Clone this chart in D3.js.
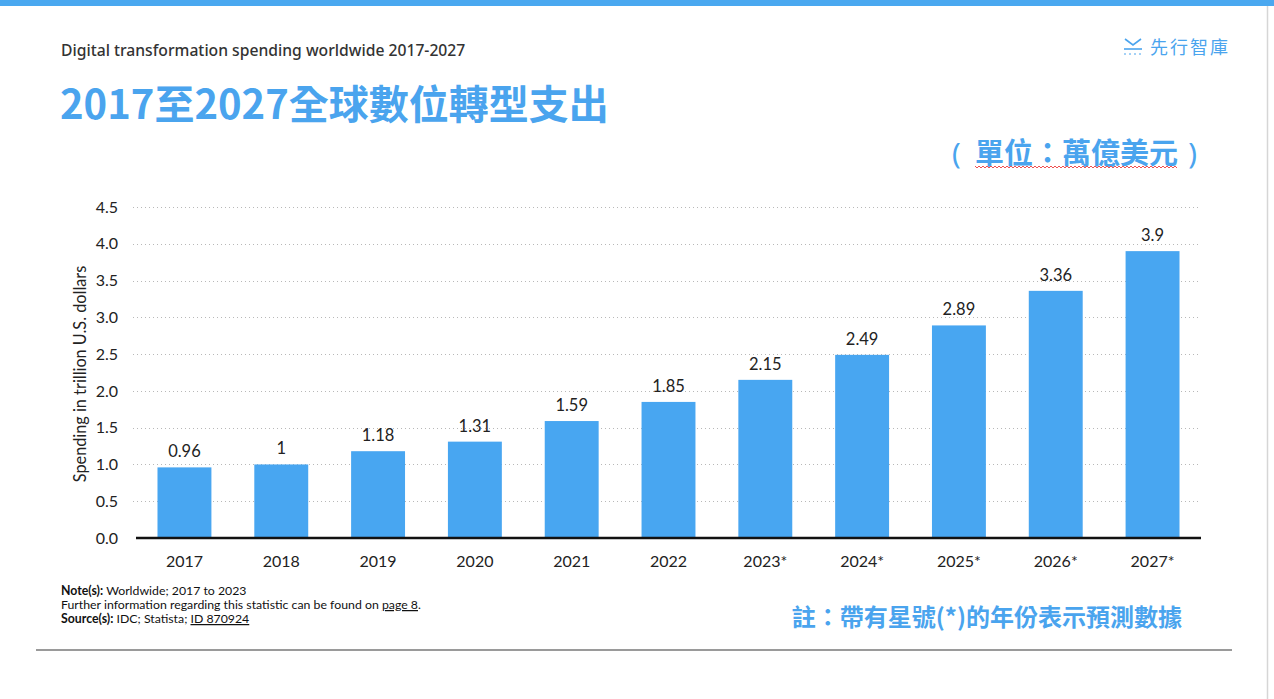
<!DOCTYPE html>
<html><head><meta charset="utf-8">
<script src="https://cdn.jsdelivr.net/npm/d3@7"></script>
<style>
html,body{margin:0;padding:0;background:#fff;}
svg{display:block;}
</style></head>
<body>
<svg id="chart" width="1274" height="699"></svg>
<script>
const categories = ["2017","2018","2019","2020","2021","2022","2023*","2024*","2025*","2026*","2027*"];
const values = [0.96, 1, 1.18, 1.31, 1.59, 1.85, 2.15, 2.49, 2.89, 3.36, 3.9];
const valueLabels = ["0.96","1","1.18","1.31","1.59","1.85","2.15","2.49","2.89","3.36","3.9"];
const yTicks = [0, 0.5, 1.0, 1.5, 2.0, 2.5, 3.0, 3.5, 4.0, 4.5];

const svg = d3.select("#chart");
const blue = "#48a6f1";
const titleBlue = "#4aa4ee";

// top band
svg.append("rect").attr("x",0).attr("y",0).attr("width",1274).attr("height",6).attr("fill","#4aa8f0");
// right vertical line
svg.append("line").attr("x1",1267.5).attr("x2",1267.5).attr("y1",6).attr("y2",699).attr("stroke","#d6d6d6").attr("stroke-width",1.5);
// bottom rule
svg.append("line").attr("x1",36).attr("x2",1232).attr("y1",650).attr("y2",650).attr("stroke","#9a9a9a").attr("stroke-width",2);

// header texts
svg.append("text").attr("x",61).attr("y",56).attr("font-family","'Noto Sans', sans-serif").attr("font-weight",500)
  .attr("font-size",15.7).attr("fill","#333").text("Digital transformation spending worldwide 2017-2027");
svg.append("text").attr("x",60).attr("y",119).attr("font-family","'Noto Sans CJK TC', sans-serif").attr("font-weight",700)
  .attr("font-size",40).attr("fill",titleBlue).text("2017至2027全球數位轉型支出");
const unitG = svg.append("g").attr("font-family","'Noto Sans CJK TC', sans-serif").attr("font-weight",700)
  .attr("font-size",29).attr("fill",titleBlue);
unitG.append("text").attr("x",952).attr("y",164).attr("font-family","'Noto Sans', sans-serif").attr("font-weight",400).text("(");
unitG.append("text").attr("x",975).attr("y",164).text("單位：萬億美元");
unitG.append("text").attr("x",1197).attr("y",164).attr("text-anchor","end").attr("font-family","'Noto Sans', sans-serif").attr("font-weight",400).text(")");
// spell-check squiggle
(function(){
  const x0 = 975, x1 = 1177, yb = 166;
  let d = `M${x0},${yb}`;
  for (let x = x0, i = 0; x < x1; x += 2, i++) d += ` L${x+2},${yb + (i%2 ? 0 : 2)}`;
  svg.append("path").attr("d",d).attr("fill","none").attr("stroke","#f05050").attr("stroke-width",1);
})();

// logo
const logo = svg.append("g").attr("transform","translate(1124,38)");
logo.append("path").attr("d","M1,1 L9,7 L17,1").attr("fill","none").attr("stroke",titleBlue).attr("stroke-width",1.6);
logo.append("line").attr("x1",0).attr("x2",18).attr("y1",11).attr("y2",11).attr("stroke",titleBlue).attr("stroke-width",1.6);
logo.append("line").attr("x1",0).attr("x2",18).attr("y1",16).attr("y2",16).attr("stroke",titleBlue).attr("stroke-width",1).attr("stroke-dasharray","2,3");
svg.append("text").attr("x",1230).attr("y",54).attr("text-anchor","end").attr("font-family","'Noto Sans CJK TC', sans-serif")
  .attr("font-size",18).attr("letter-spacing",2).attr("fill",titleBlue).text("先行智庫");

// chart
const x = d3.scaleBand().domain(categories).range([136, 1201]).paddingInner(0.443).paddingOuter(0.222);
const y = d3.scaleLinear().domain([0, 4.5]).range([538, 207]);

const font = "Lato, 'Open Sans', sans-serif";

// grid
svg.append("g").selectAll("line").data(yTicks.filter(d=>d>0)).join("line")
  .attr("x1",133).attr("x2",1200).attr("y1",d=>Math.round(y(d))+0.5).attr("y2",d=>Math.round(y(d))+0.5)
  .attr("stroke","#b8b8b8").attr("stroke-width",1).attr("stroke-dasharray","1,3");

// y axis labels
const yAxis = svg.append("g").attr("transform","translate(126,0)")
  .call(d3.axisLeft(y).tickValues(yTicks).tickFormat(d3.format(".1f")).tickSize(0).tickPadding(8));
yAxis.select(".domain").remove();
yAxis.selectAll("text").attr("font-family",font).attr("font-size",16).attr("fill","#222");

// bars
svg.append("g").selectAll("rect").data(values).join("rect")
  .attr("x",(d,i)=>x(categories[i])).attr("width",x.bandwidth())
  .attr("y",d=>y(d)).attr("height",d=>y(0)-y(d)).attr("fill",blue);

// value labels
svg.append("g").selectAll("text").data(values).join("text")
  .attr("x",(d,i)=>x(categories[i])+x.bandwidth()/2).attr("y",d=>y(d)-10)
  .attr("text-anchor","middle").attr("font-family",font).attr("font-size",16.5).attr("fill","#222")
  .text((d,i)=>valueLabels[i]);

// x axis
const xAxis = svg.append("g").attr("transform","translate(0,538)")
  .call(d3.axisBottom(x).tickSize(0).tickPadding(18));
xAxis.select(".domain").remove();
xAxis.selectAll("text").attr("font-family",font).attr("font-size",16).attr("fill","#222");
svg.append("line").attr("x1",136).attr("x2",1201).attr("y1",538).attr("y2",538).attr("stroke","#111").attr("stroke-width",2.5);

// y title
svg.append("text").attr("transform","translate(86,374) rotate(-90)").attr("text-anchor","middle")
  .attr("font-family",font).attr("font-size",16.3).attr("fill","#222").text("Spending in trillion U.S. dollars");

// notes
const notes = svg.append("g").attr("font-family",font).attr("font-size",12.3).attr("fill","#111");
const n1 = notes.append("text").attr("x",61).attr("y",595);
n1.append("tspan").attr("font-weight",700).text("Note(s):");
n1.append("tspan").text(" Worldwide; 2017 to 2023");
const n2 = notes.append("text").attr("x",61).attr("y",609);
n2.append("tspan").text("Further information regarding this statistic can be found on ");
n2.append("tspan").attr("text-decoration","underline").text("page 8");
n2.append("tspan").text(".");
const n3 = notes.append("text").attr("x",61).attr("y",623);
n3.append("tspan").attr("font-weight",700).text("Source(s):");
n3.append("tspan").text(" IDC; Statista; ");
n3.append("tspan").attr("text-decoration","underline").text("ID 870924");

svg.append("text").attr("x",1182).attr("y",626).attr("text-anchor","end").attr("font-family","'Noto Sans CJK TC', sans-serif")
  .attr("font-weight",700).attr("font-size",24).attr("fill",titleBlue).text("註：帶有星號(*)的年份表示預測數據");
</script>
</body></html>
